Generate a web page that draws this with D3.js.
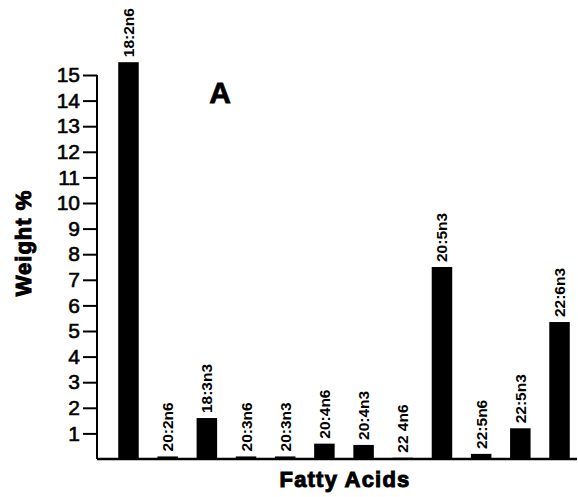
<!DOCTYPE html>
<html>
<head>
<meta charset="utf-8">
<script src="https://cdn.jsdelivr.net/npm/d3@7"></script>
<style>
  html, body { margin: 0; padding: 0; background: #fff; }
  svg { display: block; }
</style>
</head>
<body>
<svg id="chart" width="578" height="497"></svg>
<script>
// Fatty acid composition (weight %)
const fattyAcids = ["18:2n6", "20:2n6", "18:3n3", "20:3n6", "20:3n3", "20:4n6",
                    "20:4n3", "22 4n6", "20:5n3", "22:5n6", "22:5n3", "22:6n3"];
const weightPct = [15.5, 0.1, 1.6, 0.1, 0.1, 0.6, 0.55, 0.05, 7.5, 0.2, 1.2, 5.35];
const yTicks = [1, 2, 3, 4, 5, 6, 7, 8, 9, 10, 11, 12, 13, 14, 15];
const panelLabel = "A";

const svg = d3.select("#chart");
const axisX = 97, baseY = 459, topY = 75, axisEnd = 577;
const font = "Liberation Sans, Arial, sans-serif";

const x = d3.scaleBand()
  .domain(fattyAcids)
  .range([axisX, 591])
  .paddingInner(0.477)
  .paddingOuter(0.542)
  .align(0.5);

const y = d3.scaleLinear().domain([0, 15]).range([baseY, topY]);

// Bars
svg.append("g")
  .selectAll("rect")
  .data(fattyAcids)
  .join("rect")
  .attr("x", d => x(d))
  .attr("width", x.bandwidth())
  .attr("y", (d, i) => y(weightPct[i]))
  .attr("height", (d, i) => baseY - y(weightPct[i]))
  .attr("fill", "#000");

// Rotated labels above each bar
svg.append("g")
  .selectAll("text")
  .data(fattyAcids)
  .join("text")
  .attr("transform", (d, i) =>
    `translate(${x(d) + x.bandwidth() / 2 + 5.5},${y(weightPct[i]) - 5}) rotate(-90)`)
  .attr("text-anchor", "start")
  .attr("font-family", font)
  .attr("font-size", 15.5)
  .attr("font-weight", "bold")
  .attr("fill", "#000")
  .text(d => d);

// Y axis
const yAxis = d3.axisLeft(y)
  .tickValues(yTicks)
  .tickSize(14)
  .tickPadding(3)
  .tickFormat(d3.format("d"));

const gy = svg.append("g")
  .attr("transform", `translate(${axisX},0)`)
  .call(yAxis);
gy.select(".domain").remove();
gy.selectAll(".tick line").attr("stroke", "#000").attr("stroke-width", 2);
gy.selectAll(".tick text")
  .attr("font-family", font)
  .attr("font-size", 21)
  .attr("fill", "#000")
  .attr("stroke", "#000")
  .attr("stroke-width", 0.6);

// Axis lines
svg.append("line")
  .attr("x1", axisX).attr("x2", axisX)
  .attr("y1", y(15)).attr("y2", baseY)
  .attr("stroke", "#000").attr("stroke-width", 2);
svg.append("line")
  .attr("x1", axisX).attr("x2", axisEnd)
  .attr("y1", baseY).attr("y2", baseY)
  .attr("stroke", "#000").attr("stroke-width", 2.5);

// Axis titles
svg.append("text")
  .attr("transform", `translate(31,243) rotate(-90)`)
  .attr("text-anchor", "middle")
  .attr("font-family", font)
  .attr("font-size", 22)
  .attr("font-weight", "bold")
  .attr("letter-spacing", 1)
  .attr("fill", "#000")
  .attr("stroke", "#000")
  .attr("stroke-width", 1)
  .text("Weight %");

svg.append("text")
  .attr("x", 345)
  .attr("y", 487)
  .attr("text-anchor", "middle")
  .attr("font-family", font)
  .attr("font-size", 22)
  .attr("font-weight", "bold")
  .attr("letter-spacing", 1.2)
  .attr("fill", "#000")
  .attr("stroke", "#000")
  .attr("stroke-width", 1)
  .text("Fatty Acids");

// Panel letter
svg.append("text")
  .attr("x", 220)
  .attr("y", 103)
  .attr("text-anchor", "middle")
  .attr("font-family", font)
  .attr("font-size", 30)
  .attr("font-weight", "bold")
  .attr("fill", "#000")
  .attr("stroke", "#000")
  .attr("stroke-width", 0.8)
  .text(panelLabel);
</script>
</body>
</html>
